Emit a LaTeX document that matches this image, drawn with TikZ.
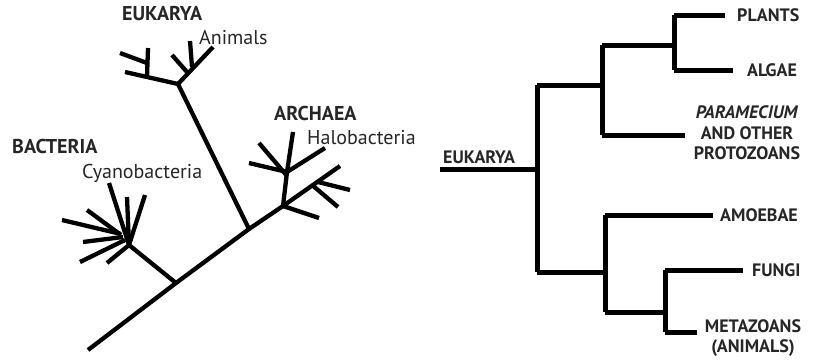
\documentclass[tikz,border=0pt]{standalone}
\usepackage{fontspec}
\setmainfont{PT Sans}
\usetikzlibrary{calc}
\begin{document}
\begin{tikzpicture}[x=1pt,y=-1pt,
  br/.style={line width=4.3pt,line cap=butt,line join=miter},
  cl/.style={line width=5pt,line cap=butt,line join=miter},
  big/.style={font=\fontsize{20}{22}\selectfont\bfseries,inner sep=0pt,text=black!85},
  small/.style={font=\fontsize{20}{22}\selectfont,inner sep=0pt,text=black!85},
  tag/.style={font=\fontsize{18}{20.5}\selectfont\bfseries,inner sep=0pt,text=black!85,align=center}]
\useasboundingbox (0,0) rectangle (813,359);
% ---------- left unrooted tree ----------
\coordinate (root) at (88,350);
\coordinate (jb) at (176,283);
\coordinate (ja) at (249,229);
\coordinate (arc) at (283,206);
\coordinate (arcend) at (340,166);
\coordinate (arcsub) at (318,182);
\coordinate (arc1) at (350,190);
\coordinate (arc2) at (338,207);
\coordinate (arc3) at (319,218);
\coordinate (halo) at (287,172);
\coordinate (halotop) at (293,132);
\coordinate (halo1) at (325,148);
\coordinate (halo2) at (249,163);
\coordinate (halo3) at (259,143);
\draw[br] (root) -- (jb) -- (ja) -- (arc) -- (arcend);
\draw[br] (arcsub) -- (arc1);
\draw[br] ($(arcsub)!0.15!(arc)$) -- (arc2);
\draw[br] (arc) -- (arc3);
\draw[br] (arc) -- (halo) -- (halotop);
\draw[br] (halo) -- (halo1);
\draw[br] (halo) -- (halo2);
\draw[br] ($(halo)!0.1!(arc)$) -- (halo3);
% eukarya
\coordinate (eu) at (178,84);
\coordinate (eul) at (125,72);
\coordinate (eulv) at (147,77);
\coordinate (eulvt) at (148,48);
\coordinate (eul2a) at (120,53);
\coordinate (eul2b) at (147,63);
\coordinate (eur) at (213,47);
\coordinate (eurs) at (192,67);
\coordinate (eurst) at (190,41);
\coordinate (eur2a) at (172,55);
\coordinate (eur2b) at (187,72);
\draw[br] (ja) -- (eu) -- (eul);
\draw[br] (eulv) -- (eulvt);
\draw[br] (eul2a) -- (eul2b);
\draw[br] (eu) -- (eur);
\draw[br] (eurs) -- (eurst);
\draw[br] (eur2a) -- (eur2b);
% bacteria
\coordinate (bh) at (129,245);
\draw[br] (jb) -- (bh);
\draw[br] (bh) -- (145,195);
\draw[br] (bh) -- (127,197);
\draw[br] (bh) -- (109,183);
\draw[br] (121,234) -- (62,220);
\draw[br] (121,235) -- (87,210);
\draw[br] (123,237) -- (83,242);
\draw[br] (125,240) -- (80,262);
\draw[br] (bh) -- (107,263);
% labels
\node[big,anchor=west] (lEu) at (122,14) {EUKARYA};
\node[small,anchor=west] (lAn) at (199,38) {Animals};
\node[big,anchor=west] (lAr) at (274,113) {ARCHAEA};
\node[small,anchor=west] (lHa) at (307,138) {Halobacteria};
\node[big,anchor=west] (lBa) at (12,146) {BACTERIA};
\node[small,anchor=west] (lCy) at (82,173) {Cyanobacteria};
% ---------- right cladogram ----------
\coordinate (r0) at (440,169);
\coordinate (r1) at (537,169);
\coordinate (u0) at (537,85);
\coordinate (l0) at (537,272);
\coordinate (u1) at (602,85);
\coordinate (uu) at (602,45);
\coordinate (ud) at (602,135);
\coordinate (uu1) at (674,45);
\coordinate (pl0) at (674,15);
\coordinate (al0) at (674,70);
\coordinate (pl1) at (725,15);
\coordinate (al1) at (733,70);
\coordinate (pa1) at (685,135);
\coordinate (l1) at (605,272);
\coordinate (lu) at (605,215);
\coordinate (ld) at (605,312);
\coordinate (am1) at (713,215);
\coordinate (ld1) at (665,312);
\coordinate (fu0) at (665,270);
\coordinate (me0) at (665,332);
\coordinate (fu1) at (743,270);
\coordinate (me1) at (697,332);
\draw[cl] (r0) -- (r1);
\draw[cl] (u0) -- (l0);
\draw[cl] (u0) -- (u1);
\draw[cl] (uu) -- (ud);
\draw[cl] (uu) -- (uu1);
\draw[cl] (pl0) -- (al0);
\draw[cl] (pl0) -- (pl1);
\draw[cl] (al0) -- (al1);
\draw[cl] (ud) -- (pa1);
\draw[cl] (l0) -- (l1);
\draw[cl] (lu) -- (ld);
\draw[cl] (lu) -- (am1);
\draw[cl] (ld) -- (ld1);
\draw[cl] (fu0) -- (me0);
\draw[cl] (fu0) -- (fu1);
\draw[cl] (me0) -- (me1);
\node[tag,anchor=south west] (rEu) at (443,164) {EUKARYA};
\node[tag,anchor=west] (tPl) at (737,15) {PLANTS};
\node[tag,anchor=west] (tAl) at (747,70) {ALGAE};
\node[tag] (tPa) at (747,133) {\textit{PARAMECIUM}\\AND OTHER\\PROTOZOANS};
\node[tag,anchor=west] (tAm) at (720,215) {AMOEBAE};
\node[tag,anchor=west] (tFu) at (752,270) {FUNGI};
\node[tag] (tMe) at (753,338) {METAZOANS\\(ANIMALS)};
\end{tikzpicture}
\end{document}
